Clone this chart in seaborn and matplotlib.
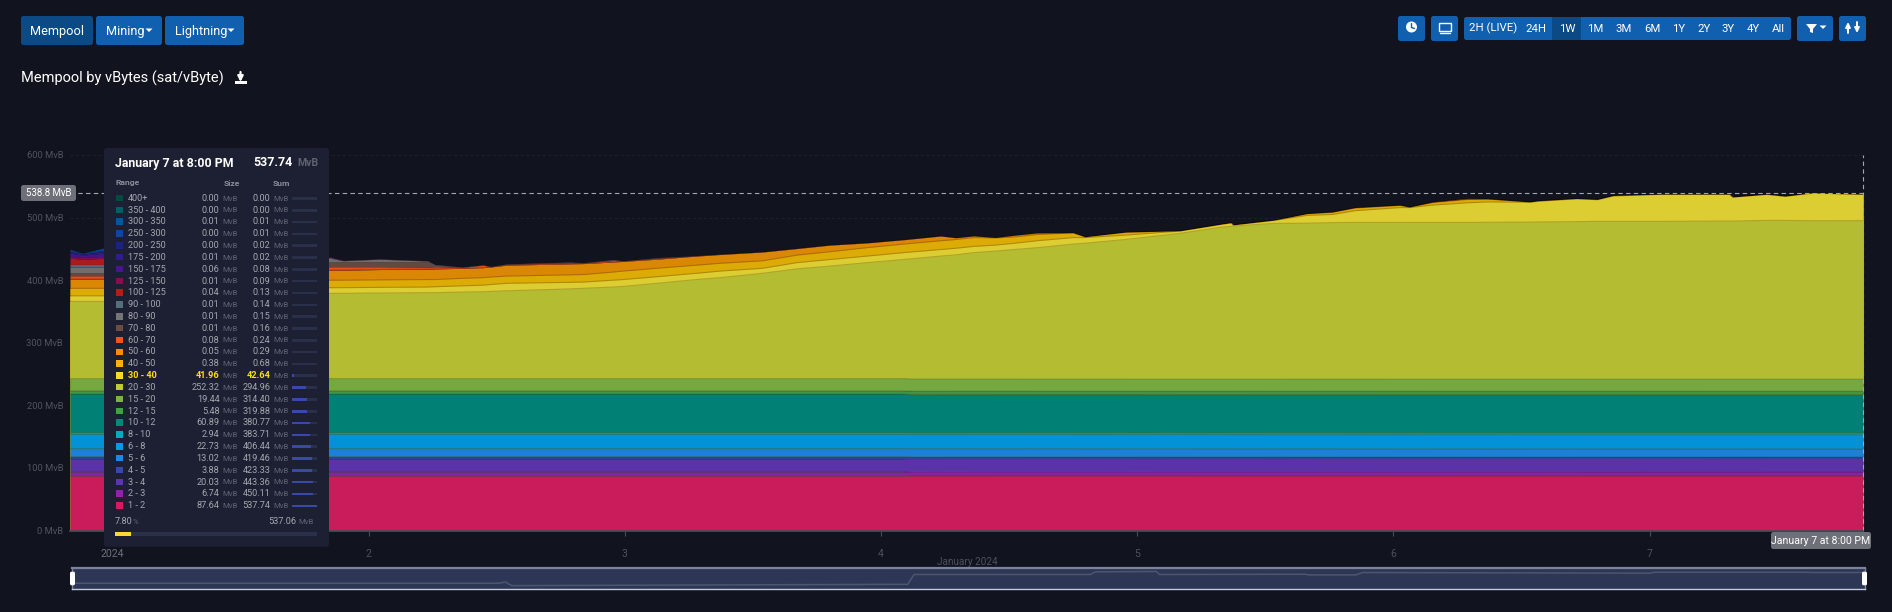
import numpy as np
import matplotlib
matplotlib.use("Agg")
import matplotlib.pyplot as plt
from matplotlib.patches import Circle, FancyBboxPatch, Polygon, Rectangle
import seaborn as sns

hours = [0, 1.2, 3.2, 12.2, 24.4, 25.6, 29, 33.5, 34.2, 36.8,
         38.7, 39.4, 40.9, 46.8, 48.1, 50.9, 51.8, 55, 58.7, 60.9,
         64.9, 68.1, 71.2, 74.7, 78.1, 81.6, 83, 84.7, 86.7, 88.5,
         90.6, 94, 95.1, 98.9, 104, 108, 108.8, 109, 112.8, 115.9,
         118.3, 120.4, 124.6, 125.5, 127.7, 130.9, 132.8, 136.8, 137.5, 141.2,
         143.1, 144.6, 149, 155.5, 155.8, 159, 160.7, 163.3, 165.2, 168]

# upper edge of the big growing bands, in MvB
edge_20_30 = [366, 366, 366, 372, 379, 379, 379.5, 380, 380, 381,
              381.5, 382, 383, 386, 387, 389, 390, 395, 401, 404,
              411, 418, 422.5, 428, 433, 438.5, 440.5, 444, 446.5, 449,
              451.8, 457.7, 459, 465, 474.7, 485, 486, 486.5, 490.7, 491,
              492, 492.3, 492.3, 492.3, 492.3, 492.3, 492.5, 492.8, 493, 493.5,
              494, 494, 494, 494.5, 494.5, 495.5, 495.5, 495, 495, 495.1]
edge_30_40 = [375, 375, 375, 381, 388, 388, 388.5, 389, 389.5, 391,
              392, 393, 395, 396.5, 397, 400, 401, 405.5, 411, 414.5,
              419, 428, 433, 438.5, 444, 449, 451, 454, 456, 459,
              463, 468, 468, 472, 478.5, 489.5, 491.5, 488.2, 495.5, 503.5,
              505, 511, 516, 516, 520, 523.6, 525, 524.6, 526, 530,
              528.5, 534.5, 537, 537.2, 532.7, 537, 534, 539, 538.2, 537.06]
edge_40_50 = [387, 387, 387, 392, 400, 400, 400.5, 401, 401, 403,
              404, 405, 406.5, 408.5, 409, 413, 414.5, 419, 424, 427,
              431, 440, 445.5, 452, 457.7, 463, 465, 468, 467.5, 469,
              473, 475.5, 469.2, 476.5, 478.9, 489.9, 491.9, 488.4, 495.9, 506,
              508.5, 515.3, 519.5, 516.8, 524, 529, 529.5, 525, 526.5, 530.5,
              529, 535.2, 537.4, 537.4, 532.9, 537.3, 534.2, 539.6, 538.4, 537.44]
edge_50_60 = [401.6, 401.6, 401.6, 407, 416, 416, 417, 417.5, 418, 419,
              420, 421, 424, 426, 426.5, 429, 430, 433.5, 438.5, 441,
              445, 450.5, 456, 459.6, 464.6, 470.6, 467.8, 470.8, 468.2, 471.8,
              475.5, 475.9, 469.4, 476.9, 479, 490, 492, 488.5, 496, 506.5,
              509, 516, 520, 517, 525, 530, 530, 525, 527, 530.6,
              529, 535.4, 537.5, 537.5, 533, 537.5, 534.3, 540, 538.6, 537.49]

# thin bands on top, these only show up in the first part of the week
size_60_70 = [5.5, 5.5, 5.5, 6, 5.5, 5.5, 4.5, 3.5, 3.5, 1.5,
              4, .6, 1.2, 1.8, 1, 2.5, .6, 1.5, .5, .4,
              .3, .3, .3, .2, .2, .2, .1, .1, .1, .1,
              .1, .1, .1, .1, .1, .1, .1, .1, .1, .1,
              .2, .2, .1, .1, .3, .8, .3, .1, .1, .1,
              .1, .1, .1, .1, .1, .1, .1, .1, .1, .08]
size_70_80 = [5, 5, 5, 8, 7.5, 8, 8, 8.5, 3, .2, .3, .2, .4, .6, .3, 1, .2, .6, .2, .2]
size_80_90 = [9, 9, 9, 10, 6, 1.5, 4, 1, .3, .1, .1, .1, .2, .3, .1, .3, .1, .2, .05, .05]
size_90_100 = [4, 4, 4, 3, 1, .3, .2, .3, .1, .1, .1, .05, .1, .2, .05, .1, .05, .1, .03, .03]
size_100_125 = [10, 8, 10, 5, .5, .2, .3, .2, .1, .1, .1, .05, .1, .1, .05, .1, .05, .1, .02, .02]
size_125_150 = [3, 3, 3, 1, .3, .1]
size_150_175 = [5, 4, 5, 1, .2, .05]
size_175_200 = [2, 1.5, 2.5, .5, .1, .02]
size_200_250 = [1.5, .5, 2, .5, .05, .01]
size_250_300 = [1.5, .5, 2.5, 0, 0, 0]
size_300_350 = [1, .3, 1.5, 0, 0, 0]

# the low fee bands barely move over the week
low_hours = [0, 78, 79, 168]
size_1_2 = [87.2, 87.2, 87.6, 87.64]
size_2_3 = [6.8, 6.8, 7.2, 6.74]
size_3_4 = [21, 21, 19.8, 20.03]
size_4_5 = [3.8, 3.8, 3.9, 3.88]
size_5_6 = [13, 13, 13.1, 13.02]
size_6_8 = [22.5, 22.5, 22.7, 22.73]
size_8_10 = [3, 3, 2.9, 2.94]
size_10_12 = [61.5, 61.5, 60.9, 60.89]
size_12_15 = [5.2, 5.2, 5.4, 5.48]
size_15_20 = [19.5, 19.5, 19.4, 19.44]

# small overview line under the chart (percent of its box height)
preview_hours = [0, 40, 40.6, 41.2, 76.7, 78.3, 78.9, 95.4, 95.9, 101.6, 101.9,
                 115.6, 115.9, 120.3, 120.9, 147.9, 148.2, 162.6, 163, 168]
preview_values = [27.7, 27.7, 33.6, 16.8, 22.7, 22.7, 68, 68, 80, 81.8, 68,
                  69, 66, 66, 77, 74, 78, 78, 77, 77]

# tooltip table
range_labels = ["400+", "350 - 400", "300 - 350", "250 - 300", "200 - 250", "175 - 200",
                "150 - 175", "125 - 150", "100 - 125", "90 - 100", "80 - 90", "70 - 80",
                "60 - 70", "50 - 60", "40 - 50", "30 - 40", "20 - 30", "15 - 20",
                "12 - 15", "10 - 12", "8 - 10", "6 - 8", "5 - 6", "4 - 5", "3 - 4",
                "2 - 3", "1 - 2"]
size_values = [0.00, 0.00, 0.01, 0.00, 0.00, 0.01, 0.06, 0.01, 0.04, 0.01, 0.01, 0.01,
               0.08, 0.05, 0.38, 41.96, 252.32, 19.44, 5.48, 60.89, 2.94, 22.73, 13.02,
               3.88, 20.03, 6.74, 87.64]
sum_values = [0.00, 0.00, 0.01, 0.01, 0.02, 0.02, 0.08, 0.09, 0.13, 0.14, 0.15, 0.16,
              0.24, 0.29, 0.68, 42.64, 294.96, 314.40, 319.88, 380.77, 383.71, 406.44,
              419.46, 423.33, 443.36, 450.11, 537.74]
range_colors = ["#004D40", "#006064", "#01579B", "#0D47A1", "#1A237E", "#311B92",
                "#4A148C", "#880E4F", "#B71C1C", "#546E7A", "#757575", "#6D4C41",
                "#F4511E", "#FB8C00", "#FFB300", "#FDD835", "#C0CA33", "#7CB342",
                "#43A047", "#00897B", "#00ACC1", "#039BE5", "#1E88E5", "#3949AB",
                "#5E35B1", "#8E24AA", "#D81B60"]
# these three look duller in the chart than the swatch does
area_overrides = {"30 - 40": "#DCCD33", "40 - 50": "#DCAB06", "50 - 60": "#DB8706"}

y_ticks = [0, 100, 200, 300, 400, 500, 600]
day_ticks = [4, 28, 52, 76, 100, 124, 148]
day_labels = ["2024", "2", "3", "4", "5", "6", "7"]

BG = "#11141F"
W, H = 1892, 612

sns.set_theme(style="dark", rc={"figure.facecolor": BG, "axes.facecolor": BG, "savefig.facecolor": BG})
plt.rcParams["font.family"] = ["Roboto", "DejaVu Sans"]


def band_color(label):
    if label in area_overrides:
        return area_overrides[label]
    # the chart draws its areas slightly see through over the dark page
    c = np.array(sns.color_palette([range_colors[range_labels.index(label)]])[0])
    bg = np.array(matplotlib.colors.to_rgb(BG))
    return tuple(0.93 * c + 0.07 * bg)


def px(size):
    return size * 0.72


fig = plt.figure(figsize=(W / 100, H / 100), dpi=100)
ax = fig.add_axes([70 / W, 1 - 530.5 / H, 1793 / W, 375.5 / H])

x = np.array(hours)
tops = [("20 - 30", edge_20_30), ("30 - 40", edge_30_40), ("40 - 50", edge_40_50), ("50 - 60", edge_50_60)]
for label, edge in reversed(tops):
    ax.fill_between(x, 0, edge, color=band_color(label), lw=0, zorder=2)
    sns.lineplot(x=hours, y=edge, color="black", alpha=0.2, lw=0.8, estimator=None, ax=ax, zorder=4)

fringe = [("60 - 70", size_60_70), ("70 - 80", size_70_80), ("80 - 90", size_80_90),
          ("90 - 100", size_90_100), ("100 - 125", size_100_125), ("125 - 150", size_125_150),
          ("150 - 175", size_150_175), ("175 - 200", size_175_200), ("200 - 250", size_200_250),
          ("250 - 300", size_250_300), ("300 - 350", size_300_350)]
base = np.array(edge_50_60, dtype=float)
for label, size in fringe:
    n = len(size)
    upper = base[:n] + np.array(size)
    ax.fill_between(x[:n], base[:n], upper, color=band_color(label), lw=0, zorder=3)
    base[:n] = upper

low_labels = ["1 - 2", "2 - 3", "3 - 4", "4 - 5", "5 - 6", "6 - 8", "8 - 10", "10 - 12", "12 - 15", "15 - 20"]
ax.stackplot(low_hours, size_1_2, size_2_3, size_3_4, size_4_5, size_5_6, size_6_8, size_8_10,
             size_10_12, size_12_15, size_15_20, colors=[band_color(l) for l in low_labels],
             edgecolor=(0, 0, 0, 0.15), linewidth=0.8, zorder=3)

ax.set_xlim(0, 168)
ax.set_ylim(0, 600)
ax.set_yticks(y_ticks)
ax.set_yticklabels([f"{v} MvB" for v in y_ticks], fontsize=px(9.4), color="#50545F")
ax.set_xticks(day_ticks)
ax.set_xticklabels(day_labels, fontsize=px(10.5), color="#4C515D")
ax.get_xticklabels()[0].set_color("#6B707C")
ax.tick_params(axis="y", length=0, pad=5)
ax.tick_params(axis="x", length=3.5, width=0.8, color="#4A4D55", pad=10, bottom=True)
ax.yaxis.grid(True, color="#1C202B", lw=0.8, ls=(0, (3, 2)))
ax.xaxis.grid(False)
ax.set_axisbelow(True)
for name, spine in ax.spines.items():
    spine.set_visible(name == "bottom")
    spine.set_color("#4A4D55")
    spine.set_zorder(6)
ax.axhline(538.8, color="#A3A6AD", lw=0.8, ls=(0, (4, 3)), zorder=5)
ax.axvline(168, color="#A3A6AD", lw=0.8, ls=(0, (4, 3)), zorder=5, clip_on=False)

# overview strip
mini = fig.add_axes([72 / W, 1 - 589.3 / H, 1793 / W, 21.8 / H], facecolor="#2D3655")
sns.lineplot(x=preview_hours, y=preview_values, color="#4D566F", lw=1.1, estimator=None, ax=mini)
mini.set_xlim(0, 168)
mini.set_ylim(0, 100)
mini.set_xticks([])
mini.set_yticks([])
mini.set_xlabel("")
mini.set_ylabel("")
for name, spine in mini.spines.items():
    spine.set_visible(True)
    spine.set_color("#C3CBDD" if name == "bottom" else "#7C849B")
    spine.set_linewidth(1.0 if name in ("bottom", "left", "right") else 1.6)

# page furniture, laid out in pixels
ov = fig.add_axes([0, 0, 1, 1], facecolor="none")
ov.set_xlim(0, W)
ov.set_ylim(H, 0)
ov.axis("off")


def box(x0, y0, x1, y1, color, r=2.5, **kw):
    p = FancyBboxPatch((x0 + r, y0 + r), x1 - x0 - 2 * r, y1 - y0 - 2 * r, boxstyle=f"round,pad={r},rounding_size={r}",
                       fc=color, ec="none", **kw)
    ov.add_patch(p)


def label(x0, y0, s, size=12, color="white", ha="left", **kw):
    ov.text(x0, y0, s, fontsize=px(size), color=color, ha=ha, va="center", **kw)


def caret(cx, cy):
    ov.add_patch(Polygon([(cx - 3.5, cy - 1.5), (cx + 3.5, cy - 1.5), (cx, cy + 2)], fc="white", ec="none"))


BLUE = "#1160AF"
DARK = "#0C4A85"
box(21, 16, 93, 45, DARK)
box(96, 16, 162, 45, BLUE)
box(165, 16, 244, 45, BLUE)
label(57, 31, "Mempool", 12.8, ha="center")
label(106, 31, "Mining", 12.8)
label(175, 31, "Lightning", 12.8)
caret(149, 30)
caret(231, 30)

box(1398, 16, 1425, 41, BLUE)
ov.add_patch(Circle((1411.5, 27), 5.5, fc="white", ec="none"))
ov.plot([1411.5, 1411.5, 1414.5], [23.5, 27.5, 28.5], color=BLUE, lw=1)
box(1431, 16, 1458, 41, BLUE)
ov.add_patch(Rectangle((1439, 23), 12, 8, fc="none", ec="white", lw=1))
ov.plot([1440, 1450], [32.5, 32.5], color="white", lw=1)
box(1464, 17, 1791, 40, BLUE)
ov.add_patch(Rectangle((1552, 17), 29, 23, fc=DARK, ec="none"))
range_buttons = [(1493, "2H (LIVE)"), (1536, "24H"), (1567, "1W"), (1595, "1M"), (1624, "3M"), (1652, "6M"),
                 (1679, "1Y"), (1704, "2Y"), (1728, "3Y"), (1753, "4Y"), (1778, "All")]
for cx, s in range_buttons:
    label(cx, 28.5, s, 11.4, ha="center")
box(1797, 16, 1833, 41, BLUE)
ov.add_patch(Polygon([(1806, 24), (1817, 24), (1813, 29), (1813, 33), (1810, 32), (1810, 29)], fc="white", ec="none"))
caret(1823, 27)
box(1839, 16, 1866, 41, BLUE)
ov.annotate("", xy=(1848, 22), xytext=(1848, 33), arrowprops=dict(arrowstyle="-|>", color="white", lw=1.4, mutation_scale=7, shrinkA=0, shrinkB=0))
ov.annotate("", xy=(1857, 33), xytext=(1857, 22), arrowprops=dict(arrowstyle="-|>", color="white", lw=1.4, mutation_scale=7, shrinkA=0, shrinkB=0))

label(21, 78, "Mempool by vBytes (sat/vByte)", 14.6)
ov.annotate("", xy=(240.5, 82), xytext=(240.5, 72), arrowprops=dict(arrowstyle="-|>", color="white", lw=1.6, mutation_scale=8, shrinkA=0, shrinkB=0))
ov.add_patch(Rectangle((235, 81), 12, 2.5, fc="white", ec="none"))

# y pointer and x pointer
box(21, 185, 76, 201, "#6E7079")
label(48.5, 193, "538.8 MvB", 9.6, ha="center")
box(1771, 532, 1871, 549, "#6E7079")
label(1821, 540.5, "January 7 at 8:00 PM", 10.5, ha="center")
label(967, 562, "January 2024", 10, "#4C515D", ha="center")

# zoom handles
box(70, 571.7, 75, 585.3, "white", r=1.5)
box(1862, 571.7, 1867, 585.3, "white", r=1.5)

# tooltip
box(104, 148, 329, 546.7, "#1D2033", r=3)
label(115, 163, "January 7 at 8:00 PM", 12.4, fontweight="bold")
label(293, 163, "537.74", 12.4, ha="right", fontweight="bold")
label(297, 163.5, "MvB", 10.5, "#5F6270", fontweight="bold")
label(115, 183, "Range", 8.5, "#8A8D99", fontweight="bold")
label(240, 183, "Size", 8.5, "#8A8D99", ha="right", fontweight="bold")
label(290, 183, "Sum", 8.5, "#8A8D99", ha="right", fontweight="bold")

row_step = (505.7 - 198.3) / (len(range_labels) - 1)
for i, name in enumerate(range_labels):
    ry = 198.3 + i * row_step
    active = name == "30 - 40"
    main = "#FDE100" if active else "#A4A6AE"
    weight = "bold" if active else "normal"
    ov.add_patch(Rectangle((116, ry - 3.5), 6.5, 6.5, fc=range_colors[i], ec="none"))
    label(128, ry, name, 9.2, main, fontweight=weight)
    label(219.5, ry, f"{size_values[i]:.2f}", 9.2, main, ha="right", fontweight=weight)
    label(222, ry + 0.3, "MvB", 7.8, "#5F6270")
    label(270.3, ry, f"{sum_values[i]:.2f}", 9.2, main, ha="right", fontweight=weight)
    label(273, ry + 0.3, "MvB", 7.8, "#5F6270")
    ov.add_patch(Rectangle((292, ry - 1.2), 25, 2.6, fc="#2A2F4A", ec="none"))
    ov.add_patch(Rectangle((292, ry - 1.2), 25 * sum_values[i] / sum_values[-1], 2.6, fc="#3949AB", ec="none"))

label(115, 522, "7.80", 9.2, "#A4A6AE")
label(133, 522, "%", 7.8, "#5F6270")
label(296, 522, "537.06", 9.2, "#A4A6AE", ha="right")
label(298, 522.3, "MvB", 7.8, "#5F6270")
ov.add_patch(Rectangle((115, 531.7), 202, 4.5, fc="#2A2F4A", ec="none"))
ov.add_patch(Rectangle((115, 531.7), 202 * 0.078, 4.5, fc="#FDD835", ec="none"))

fig.savefig("out.png", dpi=100)
